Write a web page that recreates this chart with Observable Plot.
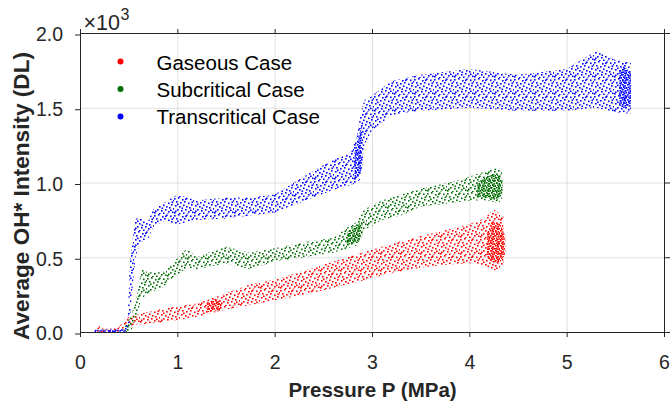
<!DOCTYPE html>
<html><head><meta charset="utf-8">
<script src="https://cdn.jsdelivr.net/npm/d3@7"></script>
<script src="https://cdn.jsdelivr.net/npm/@observablehq/plot@0.6"></script>
<style>
body{margin:0;background:#fff}
#chart{position:relative;width:672px;height:403px}
</style>
</head><body><div id="chart"></div>
<script>
// ---- data (intensity in units of 10^3) ----
// envelope of each scatter cloud: pressure, lower and upper intensity
const gasP  = [0.15,0.20,0.25,0.40,0.45,0.50,0.60,0.80,1.00,1.20,1.38,1.50,1.75,2.00,2.30,2.50,2.75,3.00,3.25,3.50,3.75,4.00,4.15,4.25,4.35];
const gasLo = [0.00,0.00,0.00,0.00,0.02,0.04,0.05,0.06,0.08,0.10,0.13,0.15,0.18,0.21,0.25,0.28,0.32,0.36,0.40,0.43,0.45,0.46,0.44,0.41,0.44];
const gasHi = [0.01,0.04,0.02,0.03,0.08,0.10,0.12,0.15,0.17,0.19,0.23,0.26,0.32,0.35,0.41,0.45,0.50,0.55,0.60,0.64,0.68,0.72,0.76,0.82,0.78];

const subP  = [0.45,0.52,0.57,0.60,0.63,0.70,0.85,0.95,1.10,1.20,1.35,1.50,1.75,2.00,2.30,2.60,2.75,2.85,2.92,3.10,3.30,3.50,3.80,4.00,4.20,4.30,4.34];
const subLo = [0.00,0.00,0.08,0.15,0.22,0.26,0.30,0.36,0.43,0.42,0.44,0.46,0.42,0.47,0.50,0.53,0.56,0.58,0.68,0.75,0.78,0.84,0.86,0.88,0.88,0.86,0.90];
const subHi = [0.03,0.10,0.20,0.30,0.42,0.40,0.40,0.46,0.56,0.50,0.54,0.57,0.53,0.56,0.60,0.63,0.70,0.74,0.82,0.88,0.92,0.96,1.00,1.04,1.08,1.10,1.06];

const traP  = [0.15,0.45,0.49,0.51,0.54,0.57,0.62,0.70,0.75,0.85,1.00,1.20,1.50,1.75,2.00,2.20,2.40,2.60,2.78,2.84,2.88,2.92,3.00,3.20,3.50,4.00,4.50,5.00,5.30,5.50,5.66];
const traLo = [0.00,0.00,0.00,0.06,0.30,0.50,0.60,0.62,0.70,0.74,0.72,0.75,0.76,0.78,0.80,0.85,0.90,0.95,0.98,1.00,1.02,1.25,1.35,1.45,1.48,1.50,1.48,1.48,1.50,1.47,1.46];
const traHi = [0.015,0.02,0.08,0.45,0.62,0.76,0.76,0.74,0.82,0.86,0.92,0.88,0.90,0.90,0.92,1.00,1.08,1.15,1.20,1.30,1.45,1.55,1.58,1.68,1.72,1.76,1.72,1.76,1.88,1.82,1.80];

// densely packed parts of each cloud: segment id, pressure, lower, upper
const gasCoreSeg = [1,1,1,1, 2,2,2];
const gasCoreP   = [4.18,4.25,4.32,4.37, 1.30,1.38,1.45];
const gasCoreLo  = [0.50,0.46,0.47,0.52, 0.13,0.14,0.15];
const gasCoreHi  = [0.66,0.74,0.72,0.64, 0.19,0.22,0.21];

const subCoreSeg = [1,1,1,1, 2,2,2,2];
const subCoreP   = [4.08,4.18,4.28,4.34, 2.74,2.80,2.86,2.90];
const subCoreLo  = [0.90,0.90,0.88,0.92, 0.58,0.59,0.60,0.64];
const subCoreHi  = [1.00,1.04,1.06,1.02, 0.66,0.70,0.72,0.74];

const traCoreSeg = [1,1,1,1, 2,2,2, 3,3,3];
const traCoreP   = [5.54,5.58,5.62,5.66, 2.82,2.86,2.90, 0.15,0.30,0.47];
const traCoreLo  = [1.52,1.50,1.50,1.52, 1.02,1.04,1.10, 0.00,0.00,0.00];
const traCoreHi  = [1.74,1.78,1.76,1.72, 1.20,1.30,1.40, 0.012,0.012,0.015];

const seriesNames  = ["Gaseous Case","Subcritical Case","Transcritical Case"];
const seriesColors = ["#ff0000","#006e00","#0000ff"];
const xTicks = [0,1,2,3,4,5,6];
const yTicks = [0,0.5,1.0,1.5,2.0];
const xLabel = "Pressure P (MPa)";
const yLabel = "Average OH* Intensity (DL)";
const scaleNote = ["×10", "3"];

const table = (name, P, lo, hi, seg) => P.map((p, i) => ({series: name, P: p, lo: lo[i], hi: hi[i], seg: seg ? seg[i] : 0}));
const bands = [
  table(seriesNames[0], gasP, gasLo, gasHi),
  table(seriesNames[1], subP, subLo, subHi),
  table(seriesNames[2], traP, traLo, traHi)
];
const cores = [
  table(seriesNames[0], gasCoreP, gasCoreLo, gasCoreHi, gasCoreSeg),
  table(seriesNames[1], subCoreP, subCoreLo, subCoreHi, subCoreSeg),
  table(seriesNames[2], traCoreP, traCoreLo, traCoreHi, traCoreSeg)
];

const FONT = "'Liberation Sans', Arial, Helvetica, sans-serif";
const INK = "#262626";
const patId = i => `speckle${i}`;
const denseId = i => `dense${i}`;

const marks = [
  Plot.gridX(xTicks, {stroke: "#000", strokeOpacity: 0.12}),
  Plot.gridY(yTicks, {stroke: "#000", strokeOpacity: 0.12}),
  ...bands.flatMap((b, i) => [
    Plot.areaY(b, {x: "P", y1: "lo", y2: "hi", fill: `url(#${patId(i)})`, curve: "linear"}),
    Plot.areaY(cores[i], {x: "P", y1: "lo", y2: "hi", z: "seg", fill: `url(#${denseId(i)})`, curve: "linear"})
  ]),
  Plot.frame({stroke: INK, strokeWidth: 1}),
  Plot.axisX(xTicks, {anchor: "bottom", tickSize: 5, tickPadding: 18, stroke: INK, color: INK, fontSize: 19.5, label: null}),
  Plot.axisX(xTicks, {anchor: "top", tickSize: 5, tickFormat: () => "", stroke: INK, label: null}),
  Plot.axisY(yTicks, {anchor: "left", tickSize: 5, tickPadding: 12.5, stroke: INK, color: INK, fontSize: 19.5, dy: 1.5, tickFormat: d3.format(".1f"), label: null}),
  Plot.axisY(yTicks, {anchor: "right", tickSize: 5, tickFormat: () => "", stroke: INK, label: null}),
  Plot.text([xLabel], {frameAnchor: "bottom", dy: 64.5, textAnchor: "middle", fontSize: 20.5, fontWeight: "bold", fill: INK}),
  Plot.text([yLabel], {frameAnchor: "left", dx: -59, dy: 13, textAnchor: "middle", rotate: -90, fontSize: 22.6, fontWeight: "bold", fill: INK}),
  Plot.text([scaleNote[0]], {frameAnchor: "top-left", dx: 3, dy: -4, textAnchor: "start", lineAnchor: "bottom", fontSize: 21.5, fill: INK}),
  Plot.text([scaleNote[1]], {frameAnchor: "top-left", dx: 40, dy: -13.5, textAnchor: "start", lineAnchor: "bottom", fontSize: 16, fill: INK}),
  ...seriesNames.flatMap((name, i) => [
    Plot.dot([name], {frameAnchor: "top-left", dx: 40, dy: 28 + 27.5 * i, r: 3, fill: seriesColors[i], stroke: "none"}),
    Plot.text([name], {frameAnchor: "top-left", dx: 76, dy: 29.5 + 27 * i, textAnchor: "start", lineAnchor: "middle", fontSize: 20.5, fill: "#000"})
  ])
];

const svg = Plot.plot({
  width: 672, height: 403,
  marginLeft: 80, marginRight: 8, marginTop: 33, marginBottom: 71,
  style: {fontFamily: FONT, background: "#fff", overflow: "visible"},
  x: {domain: [0, 6]},
  y: {domain: [0, 2]},
  marks
});

// speckle patterns (appearance only): small squares in each series colour
const ns = "http://www.w3.org/2000/svg";
const defs = document.createElementNS(ns, "defs");
const sparseTile = {w: 20, h: 17, s: 1.6, dots: [[0,1],[4,0],[8,2],[12,0.5],[16,1.5],[19,3],[2,4],[6,5],[10,4],[14,5.5],[17,7],[1,8],[5,9],[9,7.5],[12,9],[15,10],[19,11],[3,12],[7,13],[11,12],[14,14],[18,14.5],[0,15],[5,16],[9,15.5],[13,16.5],[16,12.5],[7.5,10.5],[3,6.5],[11,1.5],[17.5,4.5],[1,13.5]]};
const denseTile = {w: 5, h: 5, s: 1.6, dots: [[0,0],[2.5,1],[1,2.5],[3.5,3],[2,4]]};
function addPattern(id, color, tile, ox, oy) {
  const p = document.createElementNS(ns, "pattern");
  p.setAttribute("id", id);
  p.setAttribute("patternUnits", "userSpaceOnUse");
  p.setAttribute("width", tile.w); p.setAttribute("height", tile.h);
  p.setAttribute("x", ox); p.setAttribute("y", oy);
  tile.dots.forEach(([x, y]) => {
    const r = document.createElementNS(ns, "rect");
    r.setAttribute("x", x); r.setAttribute("y", y);
    r.setAttribute("width", tile.s); r.setAttribute("height", tile.s);
    r.setAttribute("fill", color);
    p.appendChild(r);
  });
  defs.appendChild(p);
}
seriesColors.forEach((c, i) => {
  addPattern(patId(i), c, sparseTile, 7 * i, 5 * i);
  addPattern(denseId(i), c, denseTile, i, 2 * i);
});
svg.insertBefore(defs, svg.firstChild);
document.getElementById("chart").appendChild(svg);
</script>
</body></html>
